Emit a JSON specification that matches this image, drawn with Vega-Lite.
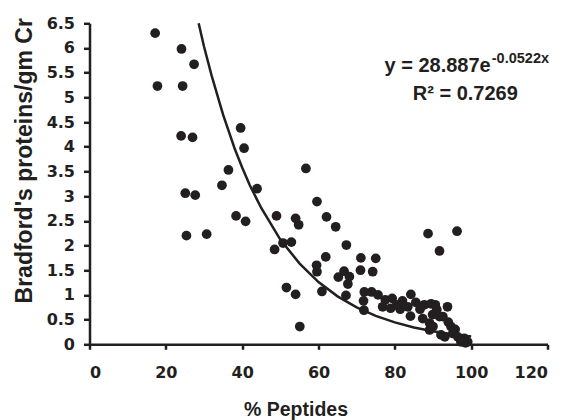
{
  "$schema": "https://vega.github.io/schema/vega-lite/v6.json",
  "width": 458,
  "height": 321,
  "autosize": {"type": "none"},
  "padding": {"left": 89.5, "top": 23.3, "right": 18.5, "bottom": 75.7},
  "background": "white",
  "config": {"view": {"stroke": null}, "font": "Liberation Sans"},
  "datasets": {
    "points": [
      {"pct": 17.2, "prot": 6.30}, {"pct": 17.8, "prot": 5.23}, {"pct": 24.1, "prot": 5.98}, {"pct": 27.4, "prot": 5.67},
      {"pct": 24.4, "prot": 5.23}, {"pct": 24.0, "prot": 4.22}, {"pct": 27.0, "prot": 4.19}, {"pct": 39.6, "prot": 4.38},
      {"pct": 40.5, "prot": 3.97}, {"pct": 36.4, "prot": 3.53}, {"pct": 34.7, "prot": 3.22}, {"pct": 43.9, "prot": 3.15},
      {"pct": 25.1, "prot": 3.06}, {"pct": 27.7, "prot": 3.02}, {"pct": 25.4, "prot": 2.20}, {"pct": 30.7, "prot": 2.23},
      {"pct": 38.4, "prot": 2.60}, {"pct": 40.9, "prot": 2.49}, {"pct": 49.0, "prot": 2.60}, {"pct": 48.5, "prot": 1.92},
      {"pct": 50.7, "prot": 2.05}, {"pct": 52.9, "prot": 2.07}, {"pct": 51.6, "prot": 1.15}, {"pct": 54.0, "prot": 1.01},
      {"pct": 55.1, "prot": 0.36}, {"pct": 54.0, "prot": 2.55}, {"pct": 54.8, "prot": 2.42}, {"pct": 56.7, "prot": 3.56},
      {"pct": 59.6, "prot": 2.89}, {"pct": 62.1, "prot": 2.58}, {"pct": 64.5, "prot": 2.38}, {"pct": 67.3, "prot": 2.01},
      {"pct": 61.9, "prot": 1.77}, {"pct": 59.5, "prot": 1.60}, {"pct": 59.6, "prot": 1.47}, {"pct": 60.9, "prot": 1.07},
      {"pct": 65.2, "prot": 1.36}, {"pct": 66.7, "prot": 1.48}, {"pct": 68.1, "prot": 1.37}, {"pct": 67.7, "prot": 1.22},
      {"pct": 67.2, "prot": 0.99}, {"pct": 71.1, "prot": 1.75}, {"pct": 75.0, "prot": 1.74}, {"pct": 71.0, "prot": 1.50},
      {"pct": 74.2, "prot": 1.47}, {"pct": 72.0, "prot": 1.06}, {"pct": 73.9, "prot": 1.06}, {"pct": 75.6, "prot": 1.00},
      {"pct": 71.8, "prot": 0.88}, {"pct": 71.9, "prot": 0.69}, {"pct": 76.8, "prot": 0.76}, {"pct": 79.3, "prot": 0.93},
      {"pct": 78.9, "prot": 0.73}, {"pct": 82.0, "prot": 0.88}, {"pct": 84.2, "prot": 1.01}, {"pct": 83.4, "prot": 0.76},
      {"pct": 81.4, "prot": 0.71}, {"pct": 84.1, "prot": 0.57}, {"pct": 86.6, "prot": 0.71}, {"pct": 87.7, "prot": 0.80},
      {"pct": 89.5, "prot": 0.82}, {"pct": 90.6, "prot": 0.80}, {"pct": 93.8, "prot": 0.76}, {"pct": 87.3, "prot": 0.52},
      {"pct": 89.1, "prot": 0.43}, {"pct": 89.9, "prot": 0.60}, {"pct": 91.7, "prot": 0.56}, {"pct": 89.1, "prot": 0.29},
      {"pct": 92.1, "prot": 0.19}, {"pct": 94.7, "prot": 0.36}, {"pct": 95.2, "prot": 0.22}, {"pct": 96.5, "prot": 0.15},
      {"pct": 98.2, "prot": 0.12}, {"pct": 99.1, "prot": 0.05}, {"pct": 97.3, "prot": 0.05}, {"pct": 88.7, "prot": 2.24},
      {"pct": 96.3, "prot": 2.29}, {"pct": 91.7, "prot": 1.89}, {"pct": 90.0, "prot": 0.36}, {"pct": 93.1, "prot": 0.15},
      {"pct": 92.6, "prot": 0.56}, {"pct": 85.5, "prot": 0.85}, {"pct": 95.8, "prot": 0.30}, {"pct": 98.5, "prot": 0.03},
      {"pct": 94.0, "prot": 0.45}, {"pct": 77.5, "prot": 0.90}, {"pct": 80.5, "prot": 0.80}, {"pct": 91.0, "prot": 0.70}
    ],
    "fit": [
      {"pct": 28.6, "prot": 6.50}, {"pct": 30, "prot": 6.03}, {"pct": 32, "prot": 5.44}, {"pct": 35, "prot": 4.65},
      {"pct": 38, "prot": 3.97}, {"pct": 40, "prot": 3.58}, {"pct": 42, "prot": 3.22}, {"pct": 45, "prot": 2.76},
      {"pct": 50, "prot": 2.12}, {"pct": 55, "prot": 1.64}, {"pct": 60, "prot": 1.26}, {"pct": 65, "prot": 0.971},
      {"pct": 70, "prot": 0.748}, {"pct": 75, "prot": 0.576}, {"pct": 80, "prot": 0.444}, {"pct": 85, "prot": 0.342},
      {"pct": 90, "prot": 0.263}, {"pct": 95, "prot": 0.203}, {"pct": 100, "prot": 0.156}
    ],
    "eqMain": [
      {"pct": 77.3, "prot": 5.52, "label": "y = 28.887e"},
      {"pct": 84.7, "prot": 4.95, "label": "R² = 0.7269"}
    ],
    "eqSup": [
      {"pct": 105.4, "prot": 5.69, "label": "-0.0522x"}
    ]
  },
  "encoding": {
    "x": {
      "field": "pct", "type": "quantitative",
      "scale": {"domain": [0, 120], "nice": false, "zero": false},
      "axis": {
        "title": "% Peptides",
        "values": [0, 20, 40, 60, 80, 100, 120],
        "grid": false,
        "domainColor": "#231f20", "domainWidth": 2.5,
        "tickColor": "#231f20", "tickWidth": 2.5, "tickSize": 5,
        "labelFont": "DejaVu Sans", "labelFontWeight": "bold", "labelFontSize": 16, "labelColor": "#231f20",
        "labelPadding": 15,
        "titleFont": "Liberation Sans", "titleFontWeight": "bold", "titleFontSize": 19.5, "titleColor": "#231f20",
        "titleX": 206, "titleY": 71.4, "titleAlign": "center", "titleBaseline": "alphabetic"
      }
    },
    "y": {
      "field": "prot", "type": "quantitative",
      "scale": {"domain": [0, 6.5], "nice": false},
      "axis": {
        "title": "Bradford's proteins/gm Cr",
        "values": [0, 0.5, 1, 1.5, 2, 2.5, 3, 3.5, 4, 4.5, 5, 5.5, 6, 6.5],
        "format": "~g",
        "grid": false,
        "domainColor": "#231f20", "domainWidth": 2.5,
        "tickColor": "#231f20", "tickWidth": 2.5, "tickSize": 6,
        "labelFont": "DejaVu Sans", "labelFontWeight": "bold", "labelFontSize": 16, "labelColor": "#231f20",
        "labelPadding": 9,
        "titleFont": "Liberation Sans", "titleFontWeight": "bold", "titleFontSize": 23, "titleColor": "#231f20",
        "titleAngle": -90, "titleX": -65.5, "titleY": 137, "titleAlign": "center", "titleBaseline": "middle"
      }
    }
  },
  "layer": [
    {
      "data": {"name": "points"},
      "mark": {"type": "circle", "size": 95, "color": "#231f20", "opacity": 1}
    },
    {
      "data": {"name": "fit"},
      "mark": {"type": "line", "color": "#231f20", "strokeWidth": 2.5}
    },
    {
      "data": {"name": "eqMain"},
      "mark": {"type": "text", "align": "left", "baseline": "alphabetic", "font": "Liberation Sans", "fontWeight": "bold", "fontSize": 20, "color": "#231f20"},
      "encoding": {"text": {"field": "label"}}
    },
    {
      "data": {"name": "eqSup"},
      "mark": {"type": "text", "align": "left", "baseline": "alphabetic", "font": "Liberation Sans", "fontWeight": "bold", "fontSize": 14.5, "color": "#231f20"},
      "encoding": {"text": {"field": "label"}}
    }
  ]
}
